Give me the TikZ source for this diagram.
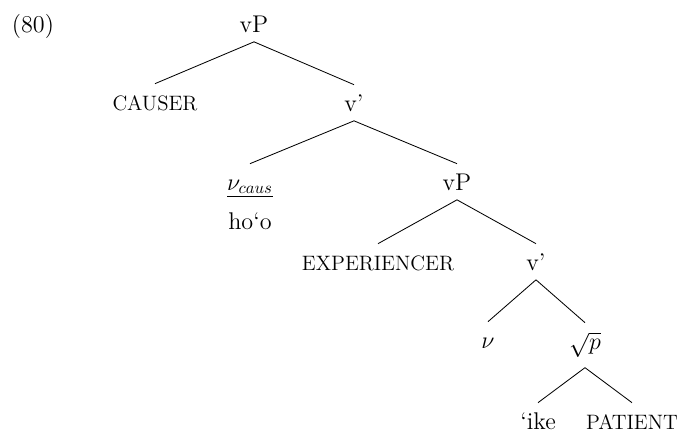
\documentclass[tikz,border=0pt]{standalone}
\usepackage{amsmath}
\usepackage{fontspec}
\tikzset{%
	cat/.style={anchor=base, inner xsep=1pt, inner ysep=4pt,%
		text height=11.6pt, text depth=1.7pt},
	role/.style={cat, font=\fontsize{12.5}{14}\selectfont},
	word/.style={anchor=base, inner sep=1pt},
	branch/.style={line width=0.5pt}
}

\begin{document}
\begin{tikzpicture}[x=0.6pt, y=-0.6pt, font=\fontsize{14.5}{17}\selectfont]
	\useasboundingbox (0,0) rectangle (682,435);

	\node[word] (ex) at (33,32) {(80)};

	\node[cat] (vP1)    at (254,32)  {vP};
	\node[role] (causer) at (155,110) {CAUSER};
	\node[cat] (vbar1)  at (354,111) {v'};
	\node[cat] (vcaus)  at (250,190) {\underline{$\nu_{caus}$}};
	\node[word] (hoo)   at (250,229) {ho`o};
	\node[cat] (vP2)    at (457,190) {vP};
	\node[role] (exper)  at (378,270) {EXPERIENCER};
	\node[cat] (vbar2)  at (536,270) {v'};
	\node[cat] (nu)     at (488,348) {$\nu$};
	\node[cat, text depth=7pt] (root) at (585,349) {$\sqrt{p}$};
	\node[cat] (ike)    at (538,429) {`ike};
	\node[role] (patient) at (632,429) {PATIENT};

	\draw[branch] (vP1.south)   -- (causer.north);
	\draw[branch] (vP1.south)   -- (vbar1.north);
	\draw[branch] (vbar1.south) -- (vcaus.north);
	\draw[branch] (vbar1.south) -- (vP2.north);
	\draw[branch] (vP2.south)   -- (exper.north);
	\draw[branch] (vP2.south)   -- (vbar2.north);
	\draw[branch] (vbar2.south) -- (nu.north);
	\draw[branch] (vbar2.south) -- (root.north);
	\draw[branch] (root.south)  -- (ike.north);
	\draw[branch] (root.south)  -- (patient.north);
\end{tikzpicture}
\end{document}
